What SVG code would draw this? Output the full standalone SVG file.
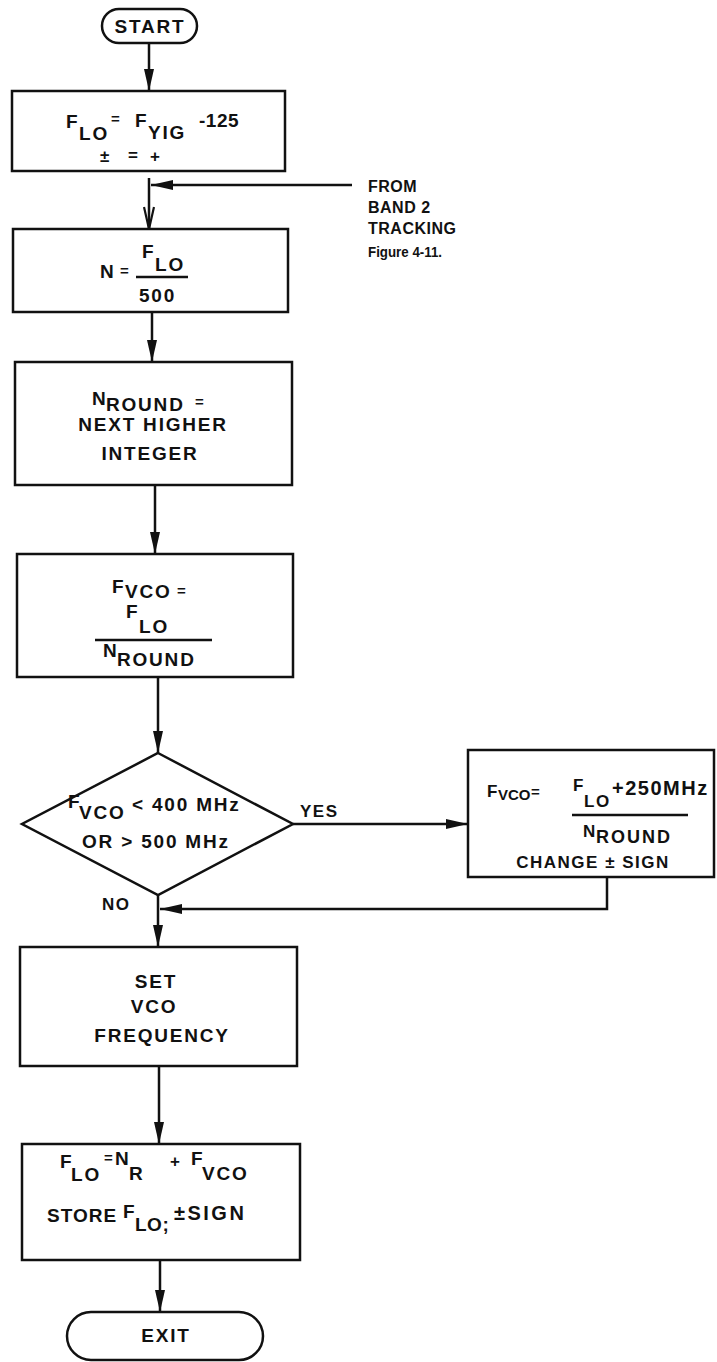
<svg xmlns="http://www.w3.org/2000/svg" width="717" height="1362" viewBox="0 0 717 1362">
<style>
.s{fill:#fff;stroke:#111;stroke-width:2.5}
.c{fill:none;stroke:#111;stroke-width:2.5}
.t{font-family:"Liberation Sans",Arial,sans-serif;font-weight:bold;font-size:19px;letter-spacing:1.8px;fill:#111}
.m{text-anchor:middle}
.sm{font-size:16px;letter-spacing:0.5px}
.op{font-size:15px;letter-spacing:0}
.b5{font-size:17px;letter-spacing:1.5px}
.fr{font-size:15px;letter-spacing:0}
</style>
<defs>
<marker id="ah" viewBox="0 0 22 10" markerWidth="22" markerHeight="10" markerUnits="userSpaceOnUse" refX="22" refY="5" orient="auto">
<path d="M0,0 L22,5 L0,10 Z" fill="#111"/>
</marker>
<marker id="av" viewBox="0 0 24 12" markerWidth="24" markerHeight="12" markerUnits="userSpaceOnUse" refX="23" refY="6" orient="auto">
<path d="M1,1 L23,6 L1,11" fill="none" stroke="#111" stroke-width="2.2"/>
</marker>
</defs>
<rect width="717" height="1362" fill="#fff"/>
<g id="connectors">
<line class="c" x1="149" y1="43" x2="149" y2="91" marker-end="url(#ah)"/>
<line class="c" x1="352" y1="185" x2="151" y2="185" marker-end="url(#ah)"/>
<line class="c" x1="149" y1="178" x2="149" y2="229" marker-end="url(#av)"/>
<line class="c" x1="152" y1="312" x2="152" y2="362" marker-end="url(#ah)"/>
<line class="c" x1="155" y1="485" x2="155" y2="554" marker-end="url(#ah)"/>
<line class="c" x1="158" y1="677" x2="158" y2="753" marker-end="url(#ah)"/>
<line class="c" x1="293" y1="824" x2="468" y2="824" marker-end="url(#ah)"/>
<polyline class="c" points="607,877 607,909 160,909" marker-end="url(#ah)"/>
<line class="c" x1="158" y1="895" x2="158" y2="947" marker-end="url(#ah)"/>
<line class="c" x1="159" y1="1066" x2="159" y2="1144" marker-end="url(#ah)"/>
<line class="c" x1="160" y1="1260" x2="160" y2="1312" marker-end="url(#ah)"/>
<text class="t b5" x="300" y="817">YES</text>
<text class="t b5" x="102" y="910">NO</text>
<text class="t sm" x="368" y="192">FROM</text>
<text class="t sm" x="368" y="213">BAND 2</text>
<text class="t sm" x="368" y="234">TRACKING</text>
<text class="t fr" x="368" y="257" textLength="74" lengthAdjust="spacingAndGlyphs">Figure 4-11.</text>
</g>
<g id="start">
<rect class="s" x="102" y="9" width="95" height="34" rx="17"/>
<text class="t m" x="150" y="33">START</text>
</g>
<g id="box1">
<rect class="s" x="12" y="91" width="273" height="80"/>
<text class="t"><tspan x="66" y="128">F</tspan><tspan x="79" y="140">LO</tspan><tspan class="op" x="111" y="124">=</tspan><tspan x="135" y="127">F</tspan><tspan x="148" y="139">YIG</tspan><tspan x="199" y="127" letter-spacing="0.5">-125</tspan></text>
<text class="t b5"><tspan x="100" y="162">±</tspan><tspan x="128" y="161">=</tspan><tspan x="150" y="162">+</tspan></text>
</g>
<g id="box2">
<rect class="s" x="13" y="229" width="275" height="83"/>
<text class="t"><tspan x="100" y="278">N</tspan><tspan class="op" x="120" y="276">=</tspan><tspan x="142" y="258">F</tspan><tspan x="155" y="271">LO</tspan><tspan x="139" y="302">500</tspan></text>
<line class="c" x1="136" y1="277" x2="188" y2="277"/>
</g>
<g id="box3">
<rect class="s" x="15" y="362" width="277" height="123"/>
<text class="t"><tspan x="92" y="405">N</tspan><tspan x="106" y="411">ROUND</tspan><tspan class="op" x="195" y="407">=</tspan></text>
<text class="t m" x="153" y="431">NEXT HIGHER</text>
<text class="t m" x="150" y="460">INTEGER</text>
</g>
<g id="box4">
<rect class="s" x="17" y="554" width="276" height="123"/>
<text class="t"><tspan x="112" y="593">F</tspan><tspan x="125" y="598">VCO</tspan><tspan class="op" x="177" y="596">=</tspan><tspan x="126" y="618">F</tspan><tspan x="139" y="633">LO</tspan><tspan x="103" y="657">N</tspan><tspan x="117" y="666">ROUND</tspan></text>
<line class="c" x1="95" y1="640" x2="212" y2="640"/>
</g>
<g id="decision">
<polygon class="s" points="158,753 293,824 158,895 22,824"/>
<text class="t"><tspan x="68" y="808">F</tspan><tspan x="79" y="819">VCO</tspan><tspan x="132" y="811">&lt; 400 MHz</tspan></text>
<text class="t" x="82" y="848">OR  &gt; 500 MHz</text>
</g>
<g id="box5">
<rect class="s" x="468" y="750" width="246" height="127"/>
<text class="t b5"><tspan x="487" y="797">F</tspan><tspan class="op" x="498" y="800">VCO</tspan><tspan class="op" x="531" y="797">=</tspan><tspan x="573" y="791">F</tspan><tspan x="584" y="807">LO</tspan><tspan x="612" y="795" font-size="20">+250MHz</tspan><tspan x="583" y="837">N</tspan><tspan x="596" y="843" font-size="18" letter-spacing="2">ROUND</tspan></text>
<line class="c" x1="572" y1="815" x2="688" y2="815"/>
<text class="t b5 m" x="593" y="868">CHANGE ± SIGN</text>
</g>
<g id="box6">
<rect class="s" x="20" y="947" width="277" height="119"/>
<text class="t m" x="156" y="988">SET</text>
<text class="t m" x="154" y="1013">VCO</text>
<text class="t m" x="162" y="1042">FREQUENCY</text>
</g>
<g id="box7">
<rect class="s" x="22" y="1144" width="278" height="116"/>
<text class="t"><tspan x="60" y="1168">F</tspan><tspan x="71" y="1181">LO</tspan><tspan class="op" x="104" y="1163">=</tspan><tspan x="115" y="1165">N</tspan><tspan x="129" y="1180">R</tspan><tspan x="170" y="1167" font-size="17" letter-spacing="0">+</tspan><tspan x="191" y="1165">F</tspan><tspan x="202" y="1180">VCO</tspan></text>
<text class="t"><tspan x="47" y="1222" letter-spacing="1">STORE</tspan><tspan x="123" y="1218">F</tspan><tspan x="135" y="1231" letter-spacing="0.5">LO;</tspan><tspan x="174" y="1220" font-size="20" letter-spacing="2.5">±SIGN</tspan></text>
</g>
<g id="exit">
<rect class="s" x="67" y="1312" width="196" height="48" rx="24"/>
<text class="t m" x="166" y="1342">EXIT</text>
</g>
</svg>
